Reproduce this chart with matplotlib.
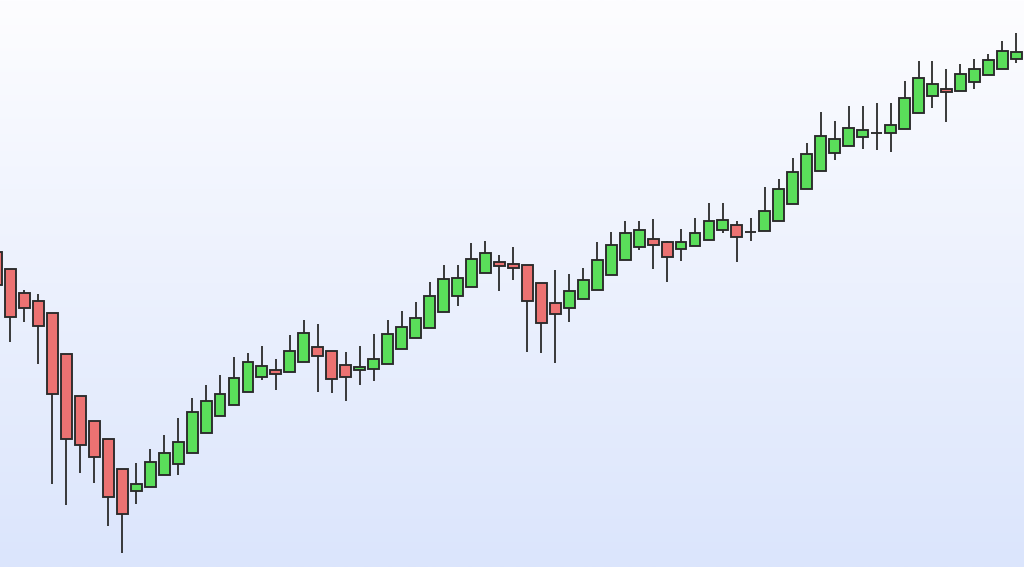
import numpy as np
import matplotlib.pyplot as plt

# OHLC values (arbitrary price scale, no axis shown)
opens = [134.8, 133.1, 130.7, 129.9, 128.7, 124.6, 120.4, 117.9, 116.1, 113.1,
         110.9, 111.3, 112.5, 113.6, 114.7, 116.7, 118.4, 119.5, 120.8, 122.3,
         123.0, 122.8, 123.8, 125.3, 124.9, 123.5, 123.0, 123.1, 123.6, 125.1,
         126.2, 127.2, 128.8, 130.4, 131.3, 132.7, 133.8, 133.6, 133.5, 131.7,
         129.7, 129.2, 130.1, 131.0, 132.5, 134.0, 135.3, 136.1, 135.8, 135.1,
         135.4, 136.0, 137.0, 137.5, 136.8, 136.9, 137.9, 139.6, 141.1, 142.9,
         144.7, 145.4, 146.3, 146.7, 146.7, 147.1, 148.7, 150.4, 151.1, 150.9,
         151.8, 152.5, 153.1, 154.1]
highs = [135.2, 133.1, 131.0, 130.6, 128.7, 124.6, 120.4, 117.9, 116.1, 113.1,
         113.7, 115.1, 116.5, 118.2, 120.2, 121.5, 122.5, 124.3, 124.7, 125.4,
         124.1, 126.5, 128.0, 127.6, 124.9, 124.8, 125.4, 126.6, 128.0, 128.9,
         129.8, 131.8, 133.5, 133.5, 135.7, 135.9, 134.5, 135.3, 133.5, 131.7,
         133.0, 132.6, 133.2, 135.8, 136.8, 137.9, 137.9, 138.1, 135.9, 137.1,
         138.2, 139.7, 139.7, 137.9, 138.2, 141.3, 142.1, 144.2, 145.7, 148.8,
         147.9, 149.4, 149.4, 149.7, 149.7, 151.9, 153.9, 153.9, 153.1, 153.6,
         154.1, 154.6, 155.9, 156.7]
lows = [131.0, 125.8, 127.8, 123.6, 111.6, 109.5, 112.7, 111.7, 107.4, 104.7,
        109.6, 111.3, 112.5, 112.5, 114.7, 116.7, 118.4, 119.5, 120.8, 122.0,
        121.0, 122.8, 123.8, 120.8, 120.7, 119.9, 121.5, 121.9, 123.6, 125.1,
        126.2, 127.2, 128.8, 129.4, 131.3, 132.7, 130.9, 132.0, 124.8, 124.7,
        123.7, 127.8, 130.1, 131.0, 132.5, 134.0, 135.0, 133.1, 131.8, 133.9,
        135.4, 136.0, 136.7, 133.8, 135.9, 136.9, 137.9, 139.6, 141.1, 142.9,
        144.0, 145.4, 145.1, 145.0, 144.8, 147.1, 148.7, 149.2, 147.8, 150.9,
        151.1, 152.5, 153.1, 153.7]
closes = [131.5, 128.3, 129.2, 127.4, 120.6, 116.1, 115.5, 114.3, 110.3, 108.6,
          111.6, 113.8, 114.7, 115.8, 118.8, 119.9, 120.6, 122.2, 123.8, 123.4,
          122.6, 124.9, 126.7, 124.4, 122.1, 122.3, 123.3, 124.1, 126.6, 127.3,
          128.2, 130.4, 132.1, 132.2, 134.1, 134.7, 133.4, 133.2, 129.9, 127.7,
          128.6, 130.9, 132.0, 134.0, 135.5, 136.7, 137.0, 135.5, 134.3, 135.8,
          136.7, 137.9, 138.0, 136.3, 136.8, 138.9, 141.1, 142.8, 144.6, 146.4,
          146.1, 147.2, 147.0, 146.7, 147.5, 150.2, 152.2, 151.6, 150.8, 152.6,
          153.1, 154.0, 154.9, 154.8]

o = np.array(opens)
h = np.array(highs)
l = np.array(lows)
c = np.array(closes)
x = np.arange(len(o))

up_color = '#5ade5a'
down_color = '#ec7272'
edge = '#2a2a2a'

fig = plt.figure(figsize=(10.24, 5.67), dpi=100)
ax = fig.add_axes([0, 0, 1, 1])

x_lo, x_hi = 0.25, 73.55
y_lo, y_hi = 103.3, 160.0

# soft vertical gradient background
top = np.array([253, 253, 255]) / 255
bottom = np.array([219, 229, 252]) / 255
t = np.linspace(0, 1, 256)[:, None]
grad = (top * (1 - t) + bottom * t)[:, None, :]
ax.imshow(grad, extent=[x_lo, x_hi, y_lo, y_hi], aspect='auto',
          origin='upper', zorder=0, interpolation='bilinear')

# wicks
ax.vlines(x, l, h, color=edge, linewidth=1.3, zorder=1)

# bodies
colors = [up_color if cc >= oo else down_color for oo, cc in zip(o, c)]
ax.bar(x, np.abs(c - o), bottom=np.minimum(o, c), width=0.78,
       color=colors, edgecolor=edge, linewidth=1.35, zorder=2)

ax.set_xlim(x_lo, x_hi)
ax.set_ylim(y_lo, y_hi)
ax.axis('off')

fig.savefig('out.png', dpi=100)
